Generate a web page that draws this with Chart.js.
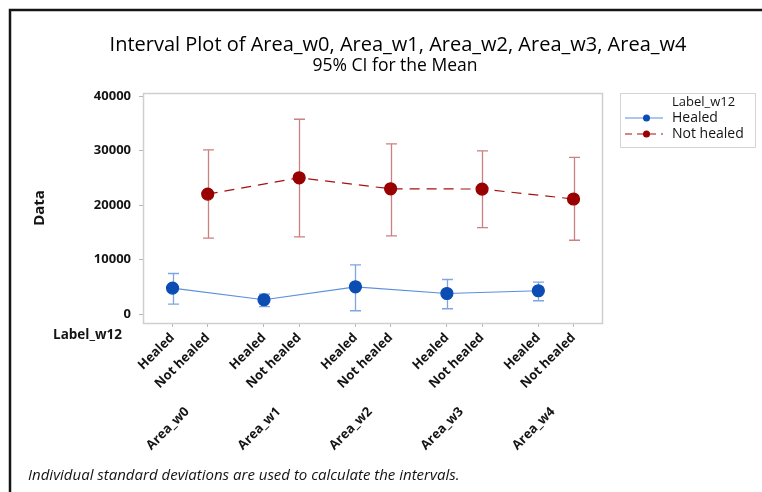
<!DOCTYPE html>
<html>
<head>
<meta charset="utf-8">
<script src="https://cdn.jsdelivr.net/npm/chart.js@4/dist/chart.umd.min.js"></script>
<style>
  html, body { margin: 0; padding: 0; background: #ffffff; }
  canvas { display: block; }
</style>
</head>
<body>
<canvas id="chart" width="762" height="492"></canvas>
<script>
// Wound area per week, grouped by healing status at week 12 (mean with 95% CI)
const groups = ['Area_w0', 'Area_w1', 'Area_w2', 'Area_w3', 'Area_w4'];
const statuses = ['Healed', 'Not healed'];

const healedMean  = [4760, 2620, 5000, 3770, 4270];
const healedLower = [1830, 1340, 600, 970, 2440];
const healedUpper = [7440, 3660, 9030, 6340, 5860];

const notHealedMean  = [22030, 25020, 23000, 22950, 21120];
const notHealedLower = [13920, 14160, 14340, 15860, 13550];
const notHealedUpper = [30150, 35770, 31250, 29960, 28760];

const yTicks = [0, 10000, 20000, 30000, 40000];

const FONT = '"Open Sans", "Noto Sans", "DejaVu Sans", sans-serif';
const TEXT = '#141414';
const BLUE = '#0b4db3';
const BLUE_LINE = '#5b8fdc';
const BLUE_ERR = '#7fa6e2';
const RED = '#990000';
const RED_LINE = '#a31212';
const RED_ERR = '#cc8080';

// Each group occupies one slot per status, with a wider gap between groups
const GROUP_STRIDE = 2.6;
const slot = (g, s) => g * GROUP_STRIDE + s;

const statusTicks = [];
const statusLabels = [];
groups.forEach((g, i) => statuses.forEach((s, j) => {
  statusTicks.push(slot(i, j));
  statusLabels.push(s);
}));
const groupTicks = groups.map((g, i) => slot(i, (statuses.length - 1) / 2));

const X_MIN = -0.84, X_MAX = 12.21;

const toPoints = (means, s) => means.map((v, i) => ({ x: slot(i, s), y: v }));

// Confidence interval whiskers with end caps, drawn beneath the mean markers
const errorBars = {
  id: 'errorBars',
  beforeDatasetsDraw(chart) {
    const { ctx } = chart;
    const xs = chart.scales.x, ys = chart.scales.y;
    chart.data.datasets.forEach(ds => {
      ctx.save();
      ctx.strokeStyle = ds.errColor;
      ctx.lineWidth = 1.3;
      ds.data.forEach((p, i) => {
        const px = Math.round(xs.getPixelForValue(p.x)) + 0.5;
        const lo = ys.getPixelForValue(ds.lower[i]);
        const hi = ys.getPixelForValue(ds.upper[i]);
        ctx.beginPath();
        ctx.moveTo(px, lo); ctx.lineTo(px, hi);
        ctx.moveTo(px - 5.5, lo); ctx.lineTo(px + 5.5, lo);
        ctx.moveTo(px - 5.5, hi); ctx.lineTo(px + 5.5, hi);
        ctx.stroke();
      });
      ctx.restore();
    });
  }
};

// Frame, plot outline, titles, legend and footnote
const decorations = {
  id: 'decorations',
  afterDraw(chart) {
    const { ctx, chartArea: a } = chart;
    ctx.save();

    // outer frame (top and left edges)
    ctx.strokeStyle = '#151515';
    ctx.lineWidth = 2.5;
    ctx.beginPath();
    ctx.moveTo(10, chart.height); ctx.lineTo(10, 10); ctx.lineTo(chart.width, 10);
    ctx.stroke();

    // plot outline
    ctx.strokeStyle = '#cfcfcf';
    ctx.lineWidth = 1.5;
    ctx.strokeRect(Math.round(a.left) + 0.5, Math.round(a.top) + 0.5,
                   Math.round(a.right - a.left), Math.round(a.bottom - a.top));

    // titles
    ctx.fillStyle = '#000000';
    ctx.textAlign = 'center';
    ctx.textBaseline = 'middle';
    ctx.font = `20px ${FONT}`;
    ctx.fillText('Interval Plot of Area_w0, Area_w1, Area_w2, Area_w3, Area_w4', 398, 45);
    ctx.font = `17.5px ${FONT}`;
    ctx.fillText('95% CI for the Mean', 395, 66);

    // row label for the x-axis categories
    ctx.fillStyle = TEXT;
    ctx.textAlign = 'right';
    ctx.font = `bold 13.5px ${FONT}`;
    ctx.fillText('Label_w12', 122, 335);

    // legend
    const lx = a.right + 18, ly = a.top;
    ctx.strokeStyle = '#d4d4d4';
    ctx.lineWidth = 1;
    ctx.strokeRect(lx + 0.5, ly + 0.5, 135, 54);
    ctx.textAlign = 'left';
    ctx.fillStyle = TEXT;
    ctx.font = `13px ${FONT}`;
    ctx.fillText('Label_w12', lx + 52, ly + 9);
    const entries = [
      { label: statuses[0], line: BLUE_LINE, dot: BLUE, dash: [] },
      { label: statuses[1], line: RED_LINE, dot: RED, dash: [7, 5] }
    ];
    entries.forEach((e, k) => {
      const y = ly + 25 + k * 16;
      ctx.save();
      ctx.strokeStyle = e.line;
      ctx.lineWidth = 1.2;
      ctx.setLineDash(e.dash);
      ctx.beginPath();
      ctx.moveTo(lx + 5, y); ctx.lineTo(lx + 43, y);
      ctx.stroke();
      ctx.restore();
      ctx.fillStyle = e.dot;
      ctx.beginPath();
      ctx.arc(lx + 26.5, y, 3.5, 0, Math.PI * 2);
      ctx.fill();
      ctx.fillStyle = TEXT;
      ctx.font = `14px ${FONT}`;
      ctx.fillText(e.label, lx + 52, y);
    });

    // footnote
    ctx.font = `italic 15px ${FONT}`;
    ctx.fillStyle = TEXT;
    ctx.textAlign = 'left';
    ctx.fillText('Individual standard deviations are used to calculate the intervals.', 28, 476);

    ctx.restore();
  }
};

const tickFont = { family: FONT, size: 13, weight: 'bold' };

new Chart(document.getElementById('chart'), {
  type: 'line',
  data: {
    datasets: [
      {
        label: statuses[0],
        data: toPoints(healedMean, 0),
        lower: healedLower,
        upper: healedUpper,
        errColor: BLUE_ERR,
        borderColor: BLUE_LINE,
        borderWidth: 1.2,
        pointBackgroundColor: BLUE,
        pointBorderColor: BLUE,
        pointRadius: 6,
        tension: 0
      },
      {
        label: statuses[1],
        data: toPoints(notHealedMean, 1),
        lower: notHealedLower,
        upper: notHealedUpper,
        errColor: RED_ERR,
        borderColor: RED_LINE,
        borderWidth: 1.2,
        borderDash: [10, 7],
        pointBackgroundColor: RED,
        pointBorderColor: RED,
        pointRadius: 6,
        tension: 0
      }
    ]
  },
  options: {
    responsive: false,
    animation: false,
    layout: { padding: { left: 22, top: 93, right: 160, bottom: 34 } },
    plugins: {
      legend: { display: false },
      tooltip: { enabled: false },
      title: { display: false }
    },
    scales: {
      x: {
        type: 'linear',
        position: 'bottom',
        weight: 0,
        min: X_MIN,
        max: X_MAX,
        afterBuildTicks: s => { s.ticks = statusTicks.map(v => ({ value: v })); },
        afterFit: s => { s.height = 75; },
        ticks: {
          autoSkip: false,
          minRotation: 45,
          maxRotation: 45,
          padding: 3,
          color: TEXT,
          font: tickFont,
          callback: (v, i) => statusLabels[i]
        },
        grid: { drawOnChartArea: false, tickLength: 4, color: '#b8b8b8' },
        border: { display: false }
      },
      x2: {
        type: 'linear',
        axis: 'x',
        position: 'bottom',
        weight: 1,
        min: X_MIN,
        max: X_MAX,
        afterBuildTicks: s => { s.ticks = groupTicks.map(v => ({ value: v })); },
        afterFit: s => { s.height = 60; },
        ticks: {
          autoSkip: false,
          minRotation: 45,
          maxRotation: 45,
          padding: 6,
          labelOffset: -3,
          color: TEXT,
          font: tickFont,
          callback: (v, i) => groups[i]
        },
        grid: { display: false, drawTicks: false },
        border: { display: false }
      },
      y: {
        type: 'linear',
        min: -1650,
        max: 40590,
        afterBuildTicks: s => { s.ticks = yTicks.map(v => ({ value: v })); },
        afterFit: s => { s.width = 121; },
        ticks: {
          padding: 8,
          color: TEXT,
          font: tickFont,
          callback: v => String(v)
        },
        grid: { drawOnChartArea: false, tickLength: 4, color: '#b8b8b8' },
        border: { display: false },
        title: {
          display: true,
          text: 'Data',
          color: TEXT,
          font: { family: FONT, size: 15, weight: 'bold' },
          padding: { top: 9, bottom: 0 }
        }
      }
    }
  },
  plugins: [errorBars, decorations]
});
</script>
</body>
</html>
